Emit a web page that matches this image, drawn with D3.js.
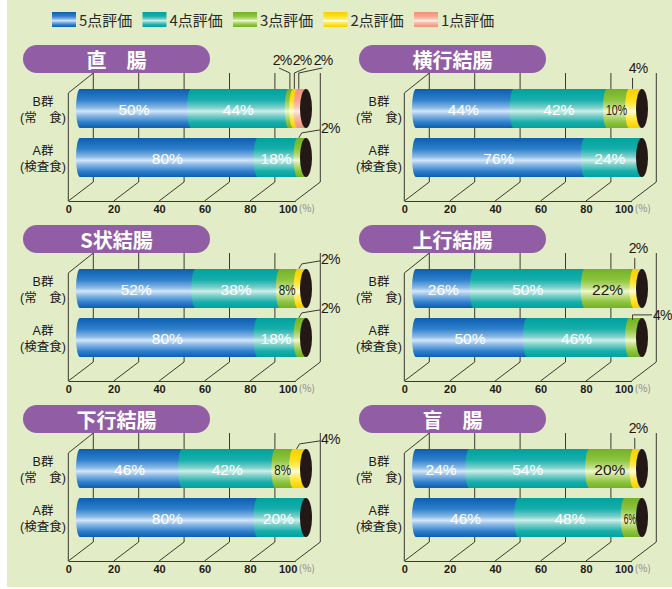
<!DOCTYPE html>
<html><head><meta charset="utf-8">
<script src="https://cdn.jsdelivr.net/npm/d3@7"></script>
<style>html,body{margin:0;padding:0;background:#fff;}svg{display:block;}</style>
</head><body>
<svg id="chart" width="672" height="589"></svg>
<script>
// ---- data ----
const panelTitles = ["直　腸","横行結腸","S状結腸","上行結腸","下行結腸","盲　腸"];
const groups = ["B群","A群"];
const groupSubs = ["(常　食)","(検査食)"];
const ratings = ["5点評価","4点評価","3点評価","2点評価","1点評価"];
const groupB = [[50,44,2,2,2],[44,42,10,4,0],[52,38,8,2,0],[26,50,22,2,0],[46,42,8,4,0],[24,54,20,2,0]];
const groupA = [[80,18,2,0,0],[76,24,0,0,0],[80,18,2,0,0],[50,46,4,0,0],[80,20,0,0,0],[46,48,6,0,0]];
const tickValues = [0,20,40,60,80,100];

// ---- styles ----
const colors = [
  {edge:"#0b5fae", mid:"#2f7fcc", light:"#8ab9e6", hi:"#d4e6f7"},
  {edge:"#00a19e", mid:"#16aeab", light:"#7fd0cb", hi:"#cdeeea"},
  {edge:"#72b126", mid:"#8cc43e", light:"#c3e08a", hi:"#f0f8cf"},
  {edge:"#f5cf00", mid:"#ffe01a", light:"#fff07a", hi:"#fffde4"},
  {edge:"#f0937a", mid:"#f5a68e", light:"#f9c9b8", hi:"#feeee7"}
];
const textDark = "#231815";
const lineCol = "#3b382d";
const FONT_NUM = "'Liberation Sans', Arial, sans-serif";
const FONT_JP = "'Noto Sans CJK JP', 'Noto Sans', sans-serif";
const FONT_MIX = "'Liberation Sans', 'Noto Sans CJK JP', sans-serif";

const svg = d3.select("#chart");
svg.append("rect").attr("x",7).attr("y",0).attr("width",665).attr("height",587).attr("fill","#e2edc8");

const defs = svg.append("defs");
colors.forEach((c,i)=>{
  const g = defs.append("linearGradient").attr("id","g"+i).attr("x1",0).attr("y1",0).attr("x2",0).attr("y2",1);
  [[0,c.edge],[0.28,c.mid],[0.48,c.light],[0.57,c.hi],[0.68,c.light],[0.85,c.mid],[1,c.edge]]
    .forEach(s=>g.append("stop").attr("offset",s[0]).attr("stop-color",s[1]));
});

// ---- legend ----
const legend = svg.append("g");
const legX = d3.scalePoint().domain(ratings).range([52,414]);
ratings.forEach((r,i)=>{
  const x = legX(r);
  legend.append("rect").attr("x",x).attr("y",12).attr("width",24).attr("height",15).attr("fill","url(#g"+i+")");
  legend.append("text").attr("x",x+27).attr("y",25.5).attr("font-family",FONT_JP).attr("font-size",15)
    .attr("fill","#2a2a2a").text(r);
});

// ---- scales (panel-local) ----
const xf = d3.scaleLinear().domain([0,100]).range([68.3,295.3]);   // front floor
const xb = d3.scaleLinear().domain([0,100]).range([80,302]);       // bars
const yb = d3.scaleBand().domain(groups).range([84,182]).paddingInner(0.2).paddingOuter(0.1);
const baseY = 201, depthX = 25, depthY = 19, backTop = 73;

// outside-label layouts (positions only)
const outsideLayout = {
  "0-0-2": {type:"fan", lx:282, ly:65},
  "0-0-3": {type:"fan", lx:302, ly:65},
  "0-0-4": {type:"fan", lx:323, ly:65},
  "0-1-2": {type:"side"},
  "1-0-3": {type:"up"},
  "2-0-3": {type:"side"},
  "2-1-2": {type:"side"},
  "3-0-3": {type:"up"},
  "3-1-2": {type:"flat"},
  "4-0-3": {type:"side"},
  "5-0-3": {type:"up"}
};

panelTitles.forEach((title,p)=>{
  const col = p%2, row = Math.floor(p/2);
  const g = svg.append("g").attr("transform",`translate(${col*336},${row*180})`);

  // back wall verticals + floor diagonals
  tickValues.forEach(t=>{
    g.append("line").attr("x1",xf(t)+depthX).attr("x2",xf(t)+depthX).attr("y1",backTop).attr("y2",baseY-depthY)
      .attr("stroke",lineCol).attr("stroke-width",1);
    g.append("line").attr("x1",xf(t)).attr("x2",xf(t)+depthX).attr("y1",baseY).attr("y2",baseY-depthY)
      .attr("stroke",lineCol).attr("stroke-width",1);
  });
  // left wall
  g.append("path").attr("d",`M${xf(0)},${baseY}L${xf(0)},${backTop+20}L${xf(0)+depthX},${backTop}`)
    .attr("fill","none").attr("stroke",lineCol).attr("stroke-width",1);

  // axis
  const ax = g.append("g").attr("transform",`translate(0,${baseY})`)
    .call(d3.axisBottom(xf).tickValues(tickValues).tickSize(0).tickPadding(4));
  ax.select(".domain").attr("stroke",lineCol).attr("stroke-width",1.1);
  ax.selectAll("text").attr("font-family",FONT_NUM).attr("font-size",11).attr("font-weight","bold").attr("fill",textDark);
  const last = ax.selectAll(".tick").filter(d=>d===100).select("text");
  last.attr("text-anchor","end").attr("dx",1.5);
  ax.selectAll(".tick").filter(d=>d===100).append("text")
    .attr("x",3).attr("y",4).attr("dy","0.71em").attr("text-anchor","start")
    .attr("font-family",FONT_JP).attr("font-size",10).attr("fill","#8a8a8a").text("(%)");

  // title pill
  g.append("rect").attr("x",23).attr("y",45).attr("width",187).attr("height",28).attr("rx",14).attr("fill","#915ea6");
  g.append("text").attr("x",116.5).attr("y",67.5).attr("text-anchor","middle").attr("font-family",FONT_JP)
    .attr("font-weight","bold").attr("font-size",20).attr("fill","#fff").text(title);

  // group labels
  groups.forEach((gr,gi)=>{
    const cy = yb(gr) + yb.bandwidth()/2;
    g.append("text").attr("x",43).attr("y",cy-2.5).attr("text-anchor","middle").attr("font-family",FONT_MIX)
      .attr("font-size",12.5).attr("fill",textDark).text(gr);
    g.append("text").attr("x",43).attr("y",cy+13).attr("text-anchor","middle").attr("font-family",FONT_MIX)
      .attr("font-size",12.5).attr("fill",textDark).text(groupSubs[gi]);
  });

  // bars
  [groupB[p], groupA[p]].forEach((vals,gi)=>{
    const y = yb(groups[gi]), h = yb.bandwidth(), ry = h/2, rx = 4;
    const lastIdx = d3.max(vals.map((v,i)=>v>0?i:-1));
    const endCx = xb(100)+4;
    let acc = 0;
    const segs = vals.map((v,i)=>{ const s={i,v,a:acc,b:acc+v}; acc+=v; return s; }).filter(s=>s.v>0);
    segs.forEach(s=>{
      const x0 = xb(s.a), x1 = s.i===lastIdx ? endCx : xb(s.b);
      g.append("path")
        .attr("d",`M${x0},${y}L${x1},${y}L${x1},${y+h}L${x0},${y+h}A${rx},${ry} 0 0 1 ${x0},${y}Z`)
        .attr("fill","url(#g"+s.i+")");
    });
    g.append("ellipse").attr("cx",endCx).attr("cy",y+ry).attr("rx",6).attr("ry",ry).attr("fill",textDark);

    segs.forEach(s=>{
      const key = `${p}-${gi}-${s.i}`;
      const lay = outsideLayout[key];
      if (!lay) {
        const w = xb(s.b)-xb(s.a);
        const t = g.append("text").attr("x",xb((s.a+s.b)/2)-1.5).attr("y",y+ry+6)
          .attr("text-anchor","middle").attr("font-family",FONT_NUM).attr("font-size",15.5)
          .attr("fill", s.i>=2 ? textDark : "#fff").text(s.v+"%");
        if (s.v<=10) t.attr("textLength",w-1).attr("lengthAdjust","spacingAndGlyphs");
      } else {
        const sx = Math.min(xb((s.a+s.b)/2)-1, 300.5);
        let pts, lx, ly, anchor;
        if (lay.type==="fan") {
          pts = [[sx,y],[sx,backTop],[lay.lx + (lay.lx-302)*0.35 + (lay.lx>302?-8:4), 68]];
          lx = lay.lx; ly = lay.ly; anchor = "middle";
        } else if (lay.type==="up") {
          pts = [[sx,y],[sx,y-11]];
          lx = 302; ly = y-16; anchor = "middle";
        } else if (lay.type==="side") {
          pts = [[sx,y],[sx+3,y-5],[320,y-8]];
          lx = 321; ly = y-5; anchor = "start";
        } else {
          pts = [[sx,y+2],[sx,y-3],[316,y-3]];
          lx = 317; ly = y+2; anchor = "start";
        }
        g.append("path").attr("d",d3.line()(pts)).attr("fill","none").attr("stroke",lineCol).attr("stroke-width",1);
        g.append("text").attr("x",lx).attr("y",ly).attr("text-anchor",anchor).attr("font-family",FONT_NUM)
          .attr("font-size",14).attr("letter-spacing",-0.8).attr("fill",textDark).text(s.v+"%");
      }
    });
  });
});
</script>
</body></html>
